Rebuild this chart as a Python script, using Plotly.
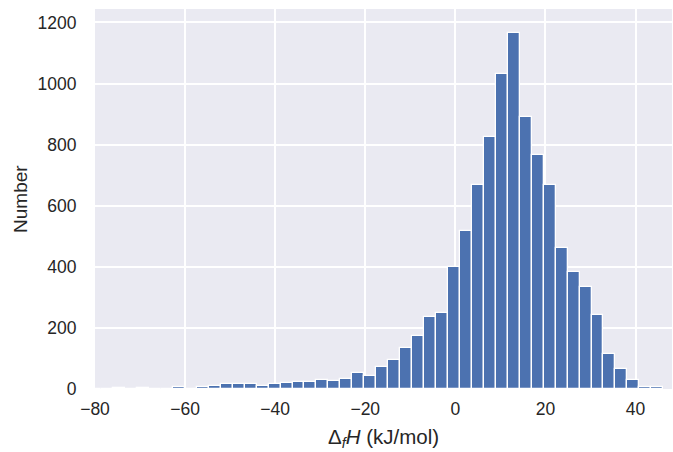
import plotly.graph_objects as go

# Histogram of formation enthalpies (kJ/mol)
bin_start = -81.28
bin_width = 2.655
counts = [
    1, 1, 2, 1, 4, 1, 1, 7, 1, 6,
    10, 15, 15, 18, 11, 16, 20, 22, 22, 28,
    25, 33, 51, 42,
    73, 94, 133, 174, 237, 250, 400, 516, 667, 825,
    1030, 1166, 891, 765, 668, 462, 383, 335, 243, 114,
    66, 29, 7, 5,
]
x_ticks = [-80, -60, -40, -20, 0, 20, 40]
y_ticks = [0, 200, 400, 600, 800, 1000, 1200]
x_title = "Δ<sub><i>f</i></sub><i>H</i> (kJ/mol)"
y_title = "Number"

centers = [bin_start + bin_width * (i + 0.5) for i in range(len(counts))]

fig = go.Figure(
    go.Bar(
        x=centers,
        y=counts,
        width=bin_width,
        marker=dict(color="#4C72B0", line=dict(color="white", width=1.3)),
    )
)

font = "Liberation Sans, Arial, sans-serif"
fig.update_layout(
    width=673,
    height=452,
    margin=dict(l=95, r=1, t=9, b=63),
    paper_bgcolor="white",
    plot_bgcolor="#EAEAF2",
    bargap=0,
    showlegend=False,
    font=dict(family=font, size=17.5, color="#262626"),
    annotations=[
        dict(text=x_title, xref="paper", yref="paper", x=0.5, y=-0.128,
             xanchor="center", yanchor="middle", showarrow=False,
             font=dict(size=20.5)),
        dict(text=y_title, xref="paper", yref="paper", x=-0.13, y=0.5,
             xanchor="center", yanchor="middle", showarrow=False,
             textangle=-90, font=dict(size=19)),
    ],
)
fig.update_xaxes(
    range=[-80, 48.1],
    tickvals=x_ticks,
    showgrid=True,
    gridcolor="white",
    gridwidth=1.5,
    zeroline=False,
    showline=False,
    ticks="outside",
    ticklen=4,
    tickcolor="rgba(0,0,0,0)",
    automargin=False,
)
fig.update_yaxes(
    range=[0, 1244],
    tickvals=y_ticks,
    showgrid=True,
    gridcolor="white",
    gridwidth=1.5,
    zeroline=False,
    showline=False,
    ticks="outside",
    ticklen=14,
    tickcolor="rgba(0,0,0,0)",
    automargin=False,
)

fig.write_html(
    "out.html",
    config={"displayModeBar": False},
    post_script="document.body.style.margin='0';document.body.style.overflow='hidden';",
)
